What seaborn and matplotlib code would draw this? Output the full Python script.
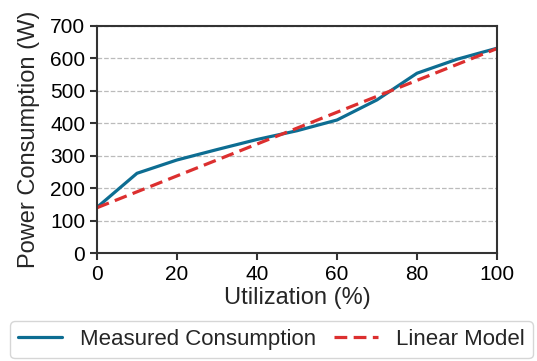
import matplotlib
matplotlib.use("Agg")
import matplotlib.pyplot as plt
import numpy as np
import pandas as pd
import seaborn as sns

utilization = [0, 10, 20, 30, 40, 50, 60, 70, 80, 90, 100]
measured = [141, 246, 287, 319, 350, 377, 410, 472, 554, 597, 631]
model_ends = [140, 630]

sns.set_theme(style="ticks")
plt.rcParams["font.family"] = ["Arial", "Liberation Sans", "DejaVu Sans"]

linear = np.interp(utilization, [0, 100], model_ends)
df = pd.DataFrame({
    "Utilization": utilization * 2,
    "Power": list(measured) + list(linear),
    "Series": ["Measured Consumption"] * len(utilization) + ["Linear Model"] * len(utilization),
})

fig, ax = plt.subplots(figsize=(5.37, 3.61), dpi=100)
sns.lineplot(
    data=df, x="Utilization", y="Power", hue="Series", style="Series",
    palette={"Measured Consumption": "#0d6d92", "Linear Model": "#dc2f2f"},
    dashes={"Measured Consumption": "", "Linear Model": (4, 2)},
    linewidth=2.3, ax=ax,
)

ax.set_xlim(0, 100)
ax.set_ylim(0, 700)
ax.set_xticks(range(0, 101, 20))
ax.set_yticks(range(0, 701, 100))
ax.yaxis.grid(True, linestyle="--", color="#bbbbbb", linewidth=0.9)
ax.set_axisbelow(True)
for spine in ax.spines.values():
    spine.set_visible(True)
    spine.set_color("#333333")
    spine.set_linewidth(1.5)
ax.tick_params(labelsize=15, width=1.5, length=5, color="#333333", labelcolor="black")
ax.set_xlabel("Utilization (%)", fontsize=17, labelpad=2)
ax.set_ylabel("Power Consumption (W)", fontsize=17, labelpad=7)

ax.legend(
    loc="upper center", bbox_to_anchor=(0.436, -0.30), ncol=2, fontsize=16,
    frameon=True, handlelength=2.0, handletextpad=0.8, columnspacing=0.8,
    borderaxespad=0, borderpad=0.35,
)

fig.subplots_adjust(left=0.1806, right=0.9255, top=0.9285, bottom=0.2986)
fig.savefig("out.png", dpi=100)
